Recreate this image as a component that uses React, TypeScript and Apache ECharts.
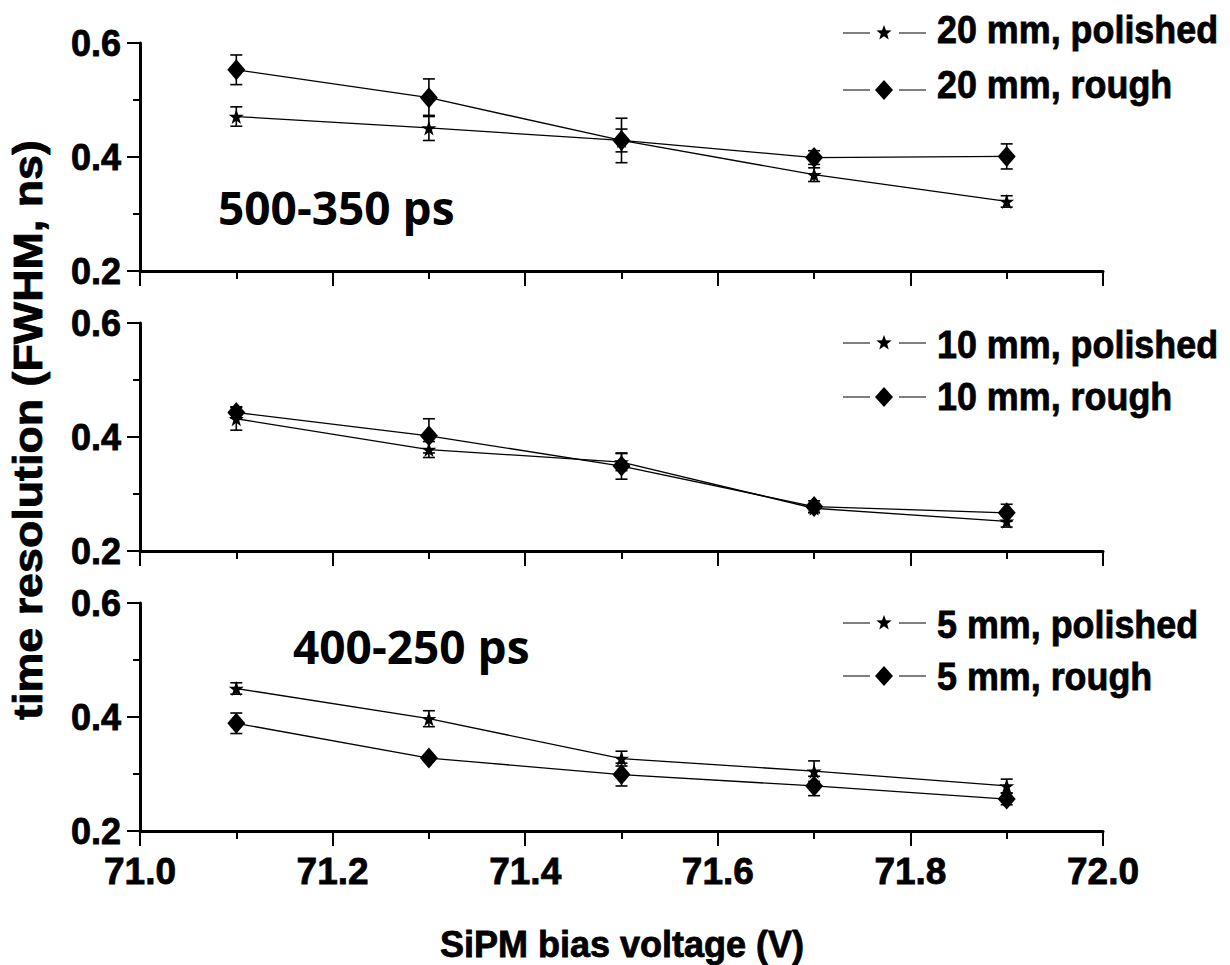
import React, { useEffect, useRef } from "react";
import * as echarts from "echarts";

const voltages = [71.1, 71.3, 71.5, 71.7, 71.9];

const p20Polished = [0.471, 0.451, 0.429, 0.369, 0.322];
const p20PolishedErr = [0.017, 0.022, 0.02, 0.012, 0.01];
const p20Rough = [0.553, 0.504, 0.429, 0.399, 0.401];
const p20RoughErr = [0.026, 0.033, 0.039, 0.012, 0.022];

const p10Polished = [0.432, 0.378, 0.356, 0.275, 0.252];
const p10PolishedErr = [0.02, 0.014, 0.015, 0.008, 0.01];
const p10Rough = [0.443, 0.402, 0.349, 0.278, 0.267];
const p10RoughErr = [0.01, 0.03, 0.023, 0.01, 0.015];

const p5Polished = [0.45, 0.397, 0.327, 0.305, 0.279];
const p5PolishedErr = [0.01, 0.014, 0.013, 0.018, 0.012];
const p5Rough = [0.389, 0.328, 0.299, 0.279, 0.256];
const p5RoughErr = [0.018, 0.005, 0.02, 0.017, 0.01];

const legendNames = [
  ["20 mm, polished", "20 mm, rough"],
  ["10 mm, polished", "10 mm, rough"],
  ["5 mm, polished", "5 mm, rough"],
];
const annotations = ["500-350 ps", "", "400-250 ps"];
const xTitle = "SiPM bias voltage (V)";
const yTitle = "time resolution (FWHM, ns)";

const FONT = "'Liberation Sans', Arial, sans-serif";
const STAR =
  "path://M12,0 L14.9,8.3 L23.4,8.3 L16.5,13.4 L19.1,21.7 L12,16.6 L4.9,21.7 L7.5,13.4 L0.6,8.3 L9.1,8.3 Z";

function starPoints(cx: number, cy: number, r: number) {
  const pts: number[][] = [];
  for (let i = 0; i < 10; i++) {
    const rr = i % 2 === 0 ? r : r * 0.42;
    const a = -Math.PI / 2 + (i * Math.PI) / 5;
    pts.push([cx + rr * Math.cos(a), cy + rr * Math.sin(a)]);
  }
  return pts;
}

export default function App() {
  const ref = useRef<HTMLDivElement>(null);
  useEffect(() => {
    document.body.style.margin = "0";
    const chart = echarts.init(ref.current!, undefined, { renderer: "svg" });

    const panels = [
      { pol: p20Polished, polErr: p20PolishedErr, rough: p20Rough, roughErr: p20RoughErr },
      { pol: p10Polished, polErr: p10PolishedErr, rough: p10Rough, roughErr: p10RoughErr },
      { pol: p5Polished, polErr: p5PolishedErr, rough: p5Rough, roughErr: p5RoughErr },
    ];
    const gridTops = [43, 323, 603];
    const gridH = 228;

    const grids = gridTops.map((t) => ({ left: 140, width: 963, top: t, height: gridH }));
    const labelCommon = {
      color: "#000",
      fontFamily: FONT,
      fontWeight: "bold",
      textBorderColor: "#000",
      textBorderWidth: 0.8,
    };
    const xAxes = gridTops.map((_, i) => ({
      type: "value",
      gridIndex: i,
      min: 71.0,
      max: 72.0,
      interval: 0.2,
      axisLine: { show: true, lineStyle: { color: "#000", width: 3 } },
      axisTick: { show: true, inside: false, length: 15, lineStyle: { color: "#000", width: 2 } },
      minorTick: { show: true, splitNumber: 2, length: 8, lineStyle: { color: "#000", width: 2 } },
      splitLine: { show: false },
      axisLabel: {
        ...labelCommon,
        show: i === 2,
        fontSize: 37,
        margin: 22,
        formatter: (v: number) => v.toFixed(1),
      },
    }));
    const yAxes = gridTops.map((_, i) => ({
      type: "value",
      gridIndex: i,
      min: 0.2,
      max: 0.6,
      interval: 0.2,
      axisLine: { show: true, lineStyle: { color: "#000", width: 3 } },
      axisTick: { show: true, inside: false, length: 13, lineStyle: { color: "#000", width: 2 } },
      minorTick: { show: true, splitNumber: 2, length: 7, lineStyle: { color: "#000", width: 2 } },
      splitLine: { show: false },
      axisLabel: {
        ...labelCommon,
        fontSize: 36,
        margin: 19,
        formatter: (v: number) => v.toFixed(1),
      },
    }));

    const errRender = (params: any, api: any) => {
      const x = api.value(0);
      const y = api.value(1);
      const e = api.value(2);
      const top = api.coord([x, y + e]);
      const bot = api.coord([x, y - e]);
      const hw = 6;
      const st = { stroke: "#000", lineWidth: 1.6 };
      return {
        type: "group",
        children: [
          { type: "line", shape: { x1: top[0], y1: top[1], x2: bot[0], y2: bot[1] }, style: st },
          { type: "line", shape: { x1: top[0] - hw, y1: top[1], x2: top[0] + hw, y2: top[1] }, style: st },
          { type: "line", shape: { x1: bot[0] - hw, y1: bot[1], x2: bot[0] + hw, y2: bot[1] }, style: st },
        ],
      };
    };

    const series: any[] = [];
    panels.forEach((p, i) => {
      const mk = (vals: number[], errs: number[]) => voltages.map((v, k) => [v, vals[k], errs[k]]);
      series.push({
        type: "custom",
        xAxisIndex: i,
        yAxisIndex: i,
        renderItem: errRender,
        encode: { x: 0, y: 1 },
        data: mk(p.pol, p.polErr),
        z: 3,
      });
      series.push({
        type: "custom",
        xAxisIndex: i,
        yAxisIndex: i,
        renderItem: errRender,
        encode: { x: 0, y: 1 },
        data: mk(p.rough, p.roughErr),
        z: 3,
      });
      series.push({
        name: legendNames[i][0],
        type: "line",
        xAxisIndex: i,
        yAxisIndex: i,
        data: voltages.map((v, k) => [v, p.pol[k]]),
        symbol: STAR,
        symbolSize: 15,
        showAllSymbol: true,
        itemStyle: { color: "#000" },
        lineStyle: { color: "#000", width: 1.3 },
        z: 4,
      });
      series.push({
        name: legendNames[i][1],
        type: "line",
        xAxisIndex: i,
        yAxisIndex: i,
        data: voltages.map((v, k) => [v, p.rough[k]]),
        symbol: "diamond",
        symbolSize: [18, 21],
        showAllSymbol: true,
        itemStyle: { color: "#000" },
        lineStyle: { color: "#000", width: 1.3 },
        z: 4,
      });
    });

    const graphics: any[] = [];
    const legendLineY = [
      [33, 90],
      [343, 397],
      [623, 676],
    ];
    const legendTextY = [
      [29, 84],
      [344, 396],
      [624, 676],
    ];
    legendLineY.forEach((rows, i) => {
      rows.forEach((cy, j) => {
        graphics.push({ type: "line", shape: { x1: 843, y1: cy, x2: 870, y2: cy }, style: { stroke: "#000", lineWidth: 1 } });
        graphics.push({ type: "line", shape: { x1: 899, y1: cy, x2: 926, y2: cy }, style: { stroke: "#000", lineWidth: 1 } });
        if (j === 0) {
          graphics.push({ type: "polygon", shape: { points: starPoints(884, cy, 8) }, style: { fill: "#000" } });
        } else {
          graphics.push({
            type: "polygon",
            shape: { points: [[884, cy - 10], [893, cy], [884, cy + 10], [875, cy]] },
            style: { fill: "#000" },
          });
        }
        graphics.push({
          type: "text",
          x: 937,
          y: legendTextY[i][j],
          scaleX: 0.92,
          style: {
            text: legendNames[i][j],
            fill: "#000",
            font: `bold 39px ${FONT}`,
            verticalAlign: "middle",
            stroke: "#000",
            lineWidth: 0.8,
          },
        });
      });
    });
    graphics.push({
      type: "text",
      x: 218,
      y: 207,
      style: { text: annotations[0], fill: "#000", font: "bold 46px 'Open Sans', sans-serif", verticalAlign: "middle" },
    });
    graphics.push({
      type: "text",
      x: 293,
      y: 646,
      style: { text: annotations[2], fill: "#000", font: "bold 46px 'Open Sans', sans-serif", verticalAlign: "middle" },
    });
    graphics.push({
      type: "text",
      x: 622,
      y: 944,
      style: {
        text: xTitle,
        fill: "#000",
        font: `bold 36px ${FONT}`,
        align: "center",
        verticalAlign: "middle",
        stroke: "#000",
        lineWidth: 0.8,
      },
    });
    graphics.push({
      type: "text",
      x: 28,
      y: 430,
      rotation: Math.PI / 2,
      scaleX: 1.12,
      style: {
        text: yTitle,
        fill: "#000",
        font: `bold 40px ${FONT}`,
        align: "center",
        verticalAlign: "middle",
        stroke: "#000",
        lineWidth: 0.8,
      },
    });

    chart.setOption({
      animation: false,
      backgroundColor: "#fff",
      grid: grids,
      xAxis: xAxes,
      yAxis: yAxes,
      series,
      graphic: graphics,
    });
    return () => chart.dispose();
  }, []);
  return <div ref={ref} style={{ width: 1230, height: 965 }} />;
}
